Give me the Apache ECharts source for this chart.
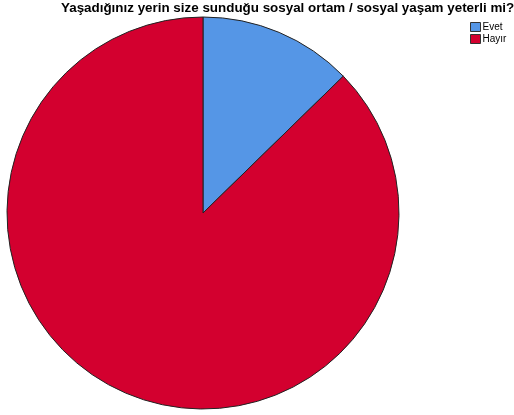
<!DOCTYPE html>
<html>
<head>
<meta charset="utf-8">
<script src="https://cdn.jsdelivr.net/npm/echarts@6/dist/echarts.min.js"></script>
<style>
  html, body { margin: 0; padding: 0; background: #fff; }
  #main { width: 514px; height: 415px; }
</style>
</head>
<body>
<div id="main"></div>
<script>
const titleText = 'Yaşadığınız yerin size sunduğu sosyal ortam / sosyal yaşam yeterli mi?';
const categories = ['Evet', 'Hayır'];
const values = [12.7, 87.3];
const colors = ['#5596e6', '#d3002f'];

const chart = echarts.init(document.getElementById('main'));
chart.setOption({
  animation: false,
  title: {
    text: titleText,
    left: 61,
    top: 0,
    padding: [2, 0, 0, 0],
    textStyle: { fontFamily: 'Arial, Liberation Sans', fontSize: 13.4, fontWeight: 'bold', color: '#000' }
  },
  legend: {
    orient: 'vertical',
    left: 470,
    top: 22,
    padding: 0,
    itemWidth: 10,
    itemHeight: 9,
    itemGap: 2,
    data: categories,
    icon: 'rect',
    itemStyle: { borderColor: '#333', borderWidth: 1 },
    textStyle: { fontFamily: 'Arial, Liberation Sans', fontSize: 10, color: '#000', padding: [0, 0, 0, -3] }
  },
  series: [{
    type: 'pie',
    center: [203, 213],
    radius: 196,
    startAngle: 90,
    clockwise: true,
    label: { show: false },
    labelLine: { show: false },
    emphasis: { disabled: true },
    itemStyle: { borderColor: '#222', borderWidth: 1 },
    data: categories.map((c, i) => ({ name: c, value: values[i], itemStyle: { color: colors[i] } }))
  }]
});
</script>
</body>
</html>
